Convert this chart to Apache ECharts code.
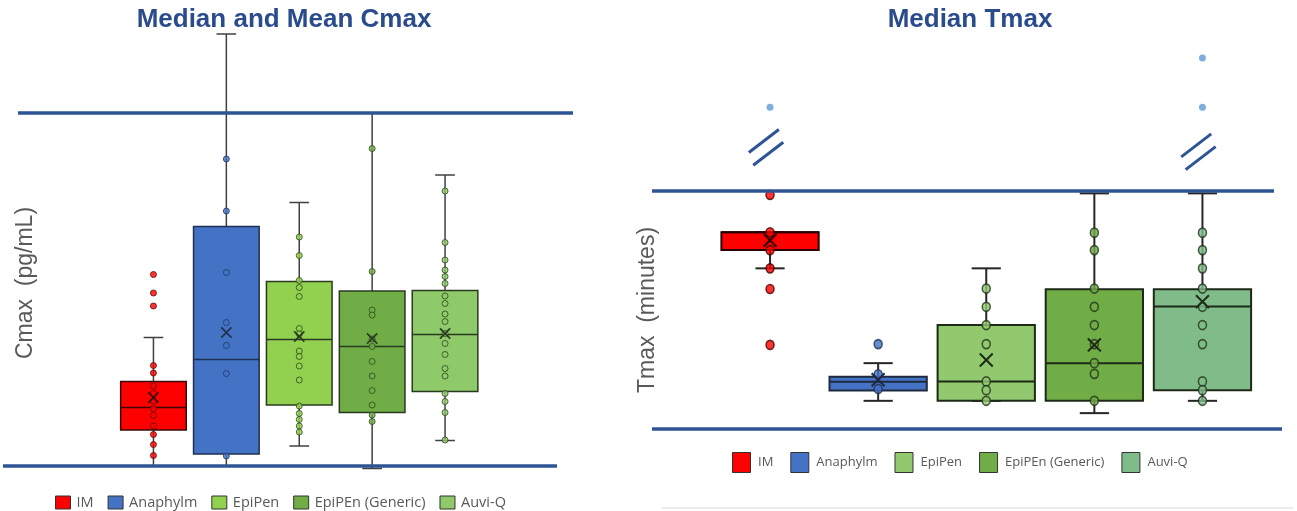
<!DOCTYPE html>
<html>
<head>
<meta charset="utf-8">
<script src="https://cdn.jsdelivr.net/npm/echarts@6.0.0/dist/echarts.min.js"></script>
<style>
  html, body { margin: 0; padding: 0; background: #ffffff; }
  #chart { width: 1297px; height: 511px; }
</style>
</head>
<body>
<div id="chart"></div>
<script>
// ---- data ---------------------------------------------------------------
const categories = ['IM', 'Anaphylm', 'EpiPen', 'EpiPEn (Generic)', 'Auvi-Q'];

// Cmax (pg/mL): [whisker low, Q1, median, Q3, whisker high]
const cmaxBox = [
  [8, 80, 125, 177, 265],
  [8, 32, 221, 487, 872],
  [48, 130, 261, 377, 535],
  [3, 115, 247, 358, 714],
  [59, 157, 271, 359, 590]
];
const cmaxMean = [145, 275, 267, 263, 273];
const cmaxPoints = [
  [391, 354, 328, 209, 194, 168, 153, 138, 123, 109, 88, 71, 51, 29],
  [622, 518, 395, 295, 249, 193, 28],
  [466, 429, 379, 365, 347, 283, 272, 238, 227, 208, 180, 128, 113, 101, 88, 76],
  [643, 397, 320, 310, 262, 247, 217, 188, 159, 130, 110, 97],
  [558, 455, 420, 400, 387, 373, 348, 333, 312, 297, 273, 253, 231, 203, 188, 153, 137, 115, 60]
];
const cmaxGuides = [8, 714];

// Tmax (minutes): [whisker low, Q1, median, Q3, whisker high]
const tmaxBox = [
  [40.5, 45.1, 49.6, 49.6, 49.6],
  [7.1, 9.7, 11.9, 13.2, 16.6],
  [7.1, 7.1, 12.0, 26.2, 40.5],
  [4.0, 7.1, 16.6, 35.2, 59.4],
  [7.1, 9.8, 30.9, 35.2, 59.4]
];
const tmaxMean = [47.6, 12.4, 17.4, 21.2, 32.1];
const tmaxPoints = [
  [59.0, 49.6, 45.1, 40.5, 35.3, 21.2],
  [21.4, 13.8, 10.1],
  [35.4, 30.8, 26.2, 21.4, 12.0, 9.8, 7.1],
  [49.5, 45.1, 35.4, 30.8, 26.2, 21.4, 16.6, 13.9, 7.1],
  [49.5, 45.1, 40.5, 35.4, 30.8, 26.2, 21.4, 12.0, 9.8, 7.1]
];
// values plotted above the axis break
const tmaxBeyondBreak = [[81.1], [], [], [], [93.5, 81.1]];
const tmaxBreakCategory = [0, 4];
const tmaxBreakValue = [71.0, 69.9];
const tmaxGuides = [0, 60];

// ---- styling --------------------------------------------------------------
const FONT = '"Liberation Sans", Arial, sans-serif';
const LEGEND_FONT = '"Open Sans", "Liberation Sans", sans-serif';
const GUIDE_BLUE = '#2f5496';

const panels = [
  {
    box: cmaxBox, mean: cmaxMean, points: cmaxPoints, guides: cmaxGuides,
    fill: ['#ff0000', '#4472c4', '#92d050', '#70ad47', '#8ec96a'],
    edge: ['#5a0b0b', '#1f3864', '#2e4a1c', '#2e4a1c', '#2e4a1c'],
    boxEdge: ['#3a0a0a', '#1f3050', '#2a3a20', '#2a3a20', '#2a3a20'],
    whisker: '#404040', whiskerWidth: 1.5, boxLine: 1.5,
    pointSize: 6, pointBorder: 1,
    meanScale: 0.14, meanLine: 1.7,
    guideExtent: [[3, 557], [18, 573]], guideWidth: 3.5
  },
  {
    box: tmaxBox, mean: tmaxMean, points: tmaxPoints, guides: tmaxGuides,
    fill: ['#ff0000', '#4472c4', '#92c96f', '#70ad47', '#80bc8a'],
    edge: ['#4a0000', '#1f3050', '#22331a', '#22331a', '#22331a'],
    boxEdge: ['#2a0000', '#1f2a40', '#1e2a18', '#1e2a18', '#1e2a18'],
    whisker: '#262626', whiskerWidth: 2, boxLine: 2,
    pointSize: [8, 9], pointBorder: 1.6,
    meanScale: 0.12, meanLine: 2,
    guideExtent: [[652, 1282], [652, 1274]], guideWidth: 3.5
  }
];

// ---- renderers -------------------------------------------------------------
function boxRenderer(p) {
  return function (params, api) {
    const i = api.value(0);
    const pt = k => api.coord([i, api.value(k)]);
    const lo = pt(1), q1 = pt(2), md = pt(3), q3 = pt(4), hi = pt(5);
    const cx = lo[0];
    const band = api.size([1, 0])[0];
    const bw = band * 0.9, cw = band * 0.27;
    const ws = { stroke: p.whisker, lineWidth: p.whiskerWidth };
    const bs = { stroke: p.boxEdge[i], lineWidth: p.boxLine };
    return {
      type: 'group',
      children: [
        { type: 'line', shape: { x1: cx, y1: hi[1], x2: cx, y2: lo[1] }, style: ws },
        { type: 'line', shape: { x1: cx - cw / 2, y1: hi[1], x2: cx + cw / 2, y2: hi[1] }, style: ws },
        { type: 'line', shape: { x1: cx - cw / 2, y1: lo[1], x2: cx + cw / 2, y2: lo[1] }, style: ws },
        { type: 'rect', shape: { x: cx - bw / 2, y: q3[1], width: bw, height: q1[1] - q3[1] },
          style: Object.assign({ fill: p.fill[i] }, bs) },
        { type: 'line', shape: { x1: cx - bw / 2, y1: md[1], x2: cx + bw / 2, y2: md[1] }, style: bs }
      ]
    };
  };
}

function meanRenderer(p) {
  return function (params, api) {
    const i = api.value(0);
    const c = api.coord([i, api.value(1)]);
    const s = api.size([1, 0])[0] * p.meanScale / 2;
    const st = { stroke: p.boxEdge[i], lineWidth: p.meanLine };
    return {
      type: 'group',
      children: [
        { type: 'line', shape: { x1: c[0] - s, y1: c[1] - s, x2: c[0] + s, y2: c[1] + s }, style: st },
        { type: 'line', shape: { x1: c[0] - s, y1: c[1] + s, x2: c[0] + s, y2: c[1] - s }, style: st }
      ]
    };
  };
}

function guideRenderer(p) {
  return function (params, api) {
    const y = api.coord([0, api.value(1)])[1];
    const ext = p.guideExtent[params.dataIndex];
    return {
      type: 'line',
      shape: { x1: ext[0], y1: y, x2: ext[1], y2: y },
      style: { stroke: GUIDE_BLUE, lineWidth: p.guideWidth }
    };
  };
}

function breakRenderer(params, api) {
  const c = api.coord([api.value(0), api.value(1)]);
  const cx = c[0] - 4, cy = c[1];
  const st = { stroke: GUIDE_BLUE, lineWidth: 3 };
  const seg = (ox, oy) => ({
    type: 'line',
    shape: { x1: cx + ox - 15, y1: cy + oy + 11.5, x2: cx + ox + 15, y2: cy + oy - 11.5 },
    style: st
  });
  return { type: 'group', children: [seg(-2.2, -6.4), seg(2.2, 6.4)] };
}

// ---- series ----------------------------------------------------------------
const series = [];
panels.forEach((p, g) => {
  categories.forEach((name, i) => {
    series.push({
      type: 'custom', name, xAxisIndex: g, yAxisIndex: g, z: 2,
      itemStyle: { color: p.fill[i] },
      renderItem: boxRenderer(p),
      encode: { x: 0, y: [1, 2, 3, 4, 5] },
      data: [[i].concat(p.box[i])]
    });
  });
  const pts = [];
  p.points.forEach((vals, i) => vals.forEach(v => pts.push({
    value: [i, v],
    itemStyle: { color: p.fill[i], borderColor: p.edge[i], borderWidth: p.pointBorder }
  })));
  series.push({
    type: 'scatter', name: 'values', xAxisIndex: g, yAxisIndex: g, z: 3,
    symbol: 'circle', symbolSize: p.pointSize, data: pts
  });
  series.push({
    type: 'custom', name: 'mean', xAxisIndex: g, yAxisIndex: g, z: 4,
    renderItem: meanRenderer(p),
    data: p.mean.map((m, i) => [i, m])
  });
  series.push({
    type: 'custom', name: 'guides', xAxisIndex: g, yAxisIndex: g, z: 5,
    renderItem: guideRenderer(p),
    data: p.guides.map(v => [0, v])
  });
});

const beyond = [];
tmaxBeyondBreak.forEach((vals, i) => vals.forEach(v => beyond.push([i, v])));
series.push({
  type: 'scatter', name: 'beyond break', xAxisIndex: 1, yAxisIndex: 1, z: 3,
  symbol: 'circle', symbolSize: 7, itemStyle: { color: '#5b9bd5' }, data: beyond
});
series.push({
  type: 'custom', name: 'breaks', xAxisIndex: 1, yAxisIndex: 1, z: 5,
  renderItem: breakRenderer,
  data: tmaxBreakCategory.map((c, k) => [c, tmaxBreakValue[k]])
});

const legendBase = {
  icon: 'rect', selectedMode: false, padding: 0,
  itemStyle: { borderColor: '#333333', borderWidth: 1 }
};

const option = {
  animation: false,
  backgroundColor: '#ffffff',
  textStyle: { fontFamily: FONT },
  grid: [
    { left: 117, width: 364.5, top: 25, bottom: 41 },
    { left: 716, width: 540.5, top: 32.33, bottom: 82 }
  ],
  xAxis: [
    { type: 'category', gridIndex: 0, data: categories, show: false },
    { type: 'category', gridIndex: 1, data: categories, show: false }
  ],
  yAxis: [
    { type: 'value', gridIndex: 0, min: 0, max: 890, show: false },
    { type: 'value', gridIndex: 1, min: 0, max: 100, show: false }
  ],
  legend: [
    Object.assign({}, legendBase, {
      left: 55, top: 495, itemWidth: 15, itemHeight: 13, itemGap: 14,
      textStyle: { color: '#595959', fontFamily: LEGEND_FONT, fontSize: 14.5, padding: [0, 0, 0, 1] },
      data: categories.map((n, i) => ({ name: n, itemStyle: { color: panels[0].fill[i] } }))
    }),
    Object.assign({}, legendBase, {
      left: 732, top: 452, itemWidth: 18, itemHeight: 20, itemGap: 17,
      textStyle: { color: '#595959', fontFamily: LEGEND_FONT, fontSize: 13, padding: [0, 0, 0, 2.5] },
      data: categories.map((n, i) => ({ name: n, itemStyle: { color: panels[1].fill[i] } }))
    })
  ],
  graphic: [
    { type: 'text', x: 284, y: 20, style: { text: 'Median and Mean Cmax', fill: '#2b4c8c',
      font: 'bold 26px ' + FONT, align: 'center', verticalAlign: 'middle' } },
    { type: 'text', x: 970, y: 20, style: { text: 'Median Tmax', fill: '#2b4c8c',
      font: 'bold 26px ' + FONT, align: 'center', verticalAlign: 'middle' } },
    { type: 'text', x: 26, y: 283, rotation: Math.PI / 2, style: { text: 'Cmax  (pg/mL)', fill: '#595959',
      font: '23px ' + FONT, align: 'center', verticalAlign: 'middle' } },
    { type: 'text', x: 648, y: 310, rotation: Math.PI / 2, style: { text: 'Tmax  (minutes)', fill: '#595959',
      font: '23px ' + FONT, align: 'center', verticalAlign: 'middle' } },
    { type: 'line', shape: { x1: 662, y1: 508, x2: 1293, y2: 508 }, style: { stroke: '#d9d9d9', lineWidth: 1 } }
  ],
  series
};

const chart = echarts.init(document.getElementById('chart'));
chart.setOption(option);
</script>
</body>
</html>
